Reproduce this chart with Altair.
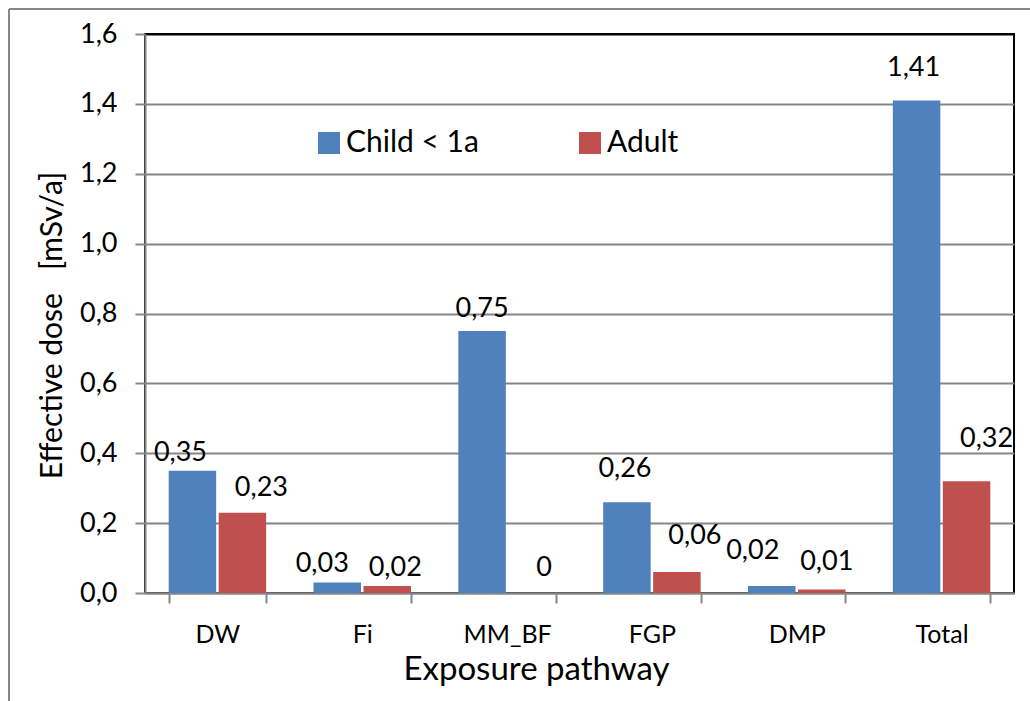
import altair as alt
import pandas as pd

# Effective dose per exposure pathway, for infants and adults
pathways = ["DW", "Fi", "MM_BF", "FGP", "DMP", "Total"]
child_dose = [0.35, 0.03, 0.75, 0.26, 0.02, 1.41]
adult_dose = [0.23, 0.02, 0.0, 0.06, 0.01, 0.32]
groups = ["Child < 1a", "Adult"]
colors = ["#4F81BD", "#C0504D"]

# label nudges (dx, lift above bar top) in pixels, per pathway, child then adult
child_nudge = [(-12, 18), (-15, 19), (0, 22), (-2, 33), (-19, 35), (-3, 32)]
adult_nudge = [(19, 25), (8, 18), (12, 25), (18, 36), (5, 28), (20, 42)]

rows = []
for i, p in enumerate(pathways):
    rows.append({"pathway": p, "group": groups[0], "dose": child_dose[i],
                 "dx": child_nudge[i][0], "lift": child_nudge[i][1]})
    rows.append({"pathway": p, "group": groups[1], "dose": adult_dose[i],
                 "dx": adult_nudge[i][0], "lift": adult_nudge[i][1]})
df = pd.DataFrame(rows)
df["idx"] = range(len(df))

FONT = "Lato"
GRAY = "#868686"
W, H = 869, 559
NB = "\u00a0"

x_enc = alt.X("pathway:N", sort=pathways,
              scale=alt.Scale(paddingInner=0.327, paddingOuter=0.1635),
              axis=alt.Axis(title="Exposure pathway", labelAngle=0,
                            tickBand="extent", grid=False,
                            titleX=391, titleY=86, titleBaseline="alphabetic",
                            titleAnchor=None))
xo_enc = alt.XOffset("group:N", sort=groups, scale=alt.Scale(paddingInner=0.05))
y_enc = alt.Y("dose:Q", scale=alt.Scale(domain=[0, 1.6], nice=False),
              axis=alt.Axis(title=f"Effective dose {NB}{NB}[mSv/a]",
                            values=[0, 0.2, 0.4, 0.6, 0.8, 1.0, 1.2, 1.4, 1.6],
                            labelExpr="replace(format(datum.value, '.1f'), '.', ',')",
                            gridColor={"condition": {"test": "datum.value >= 1.6", "value": "black"},
                                       "value": GRAY},
                            titleX=-84, titleY=291, titleBaseline="alphabetic",
                            titleAngle=270))

base = alt.Chart(df)

bars = base.mark_bar().encode(
    x=x_enc,
    xOffset=xo_enc,
    y=y_enc,
    color=alt.Color("group:N", sort=groups,
                    scale=alt.Scale(domain=groups, range=colors),
                    legend=alt.Legend(title=None, orient="none", direction="horizontal",
                                      legendX=169, legendY=94,
                                      symbolType="square", symbolSize=484,
                                      symbolStrokeWidth=0, labelFontSize=30,
                                      labelFont=FONT, labelOffset=2,
                                      columnPadding=96, padding=0)),
)

label_layers = []
for _, r in df.iterrows():
    label_layers.append(
        base.transform_filter(alt.datum.idx == int(r["idx"]))
        .transform_calculate(txt="replace(toString(datum.dose), '.', ',')")
        .mark_text(font=FONT, fontSize=27, color="black", baseline="middle",
                   dx=float(r["dx"]), dy=-float(r["lift"]))
        .encode(x=alt.X("pathway:N", sort=pathways), xOffset=alt.XOffset("group:N", sort=groups),
                y="dose:Q", text="txt:N")
    )

# outer chart frame (top and left edges visible)
frame_top = alt.Chart(df).mark_rule(color=GRAY, strokeWidth=2).encode(
    x=alt.value(-136), x2=alt.value(W + 40), y=alt.value(-25))
frame_left = alt.Chart(df).mark_rule(color=GRAY, strokeWidth=2).encode(
    x=alt.value(-136), y=alt.value(-25), y2=alt.value(H + 150))

chart = alt.layer(frame_top, frame_left, bars, *label_layers).properties(
    width=W, height=H,
    autosize=alt.AutoSizeParams(type="none"),
    padding={"left": 145, "top": 34, "right": 16, "bottom": 108},
    background="white",
).configure_view(
    stroke="black", strokeWidth=2
).configure_axis(
    labelFont=FONT, titleFont=FONT, labelColor="black", titleColor="black",
    domainColor=GRAY, domainWidth=2, tickColor=GRAY, tickWidth=2, tickSize=10,
    gridWidth=2, titleFontWeight="normal",
).configure_axisY(
    labelFontSize=27, labelPadding=18, titleFontSize=30,
).configure_axisX(
    labelFontSize=25, labelPadding=19, titleFontSize=33,
)

chart.save("out.html", embed_options={"renderer": "svg", "actions": False})
